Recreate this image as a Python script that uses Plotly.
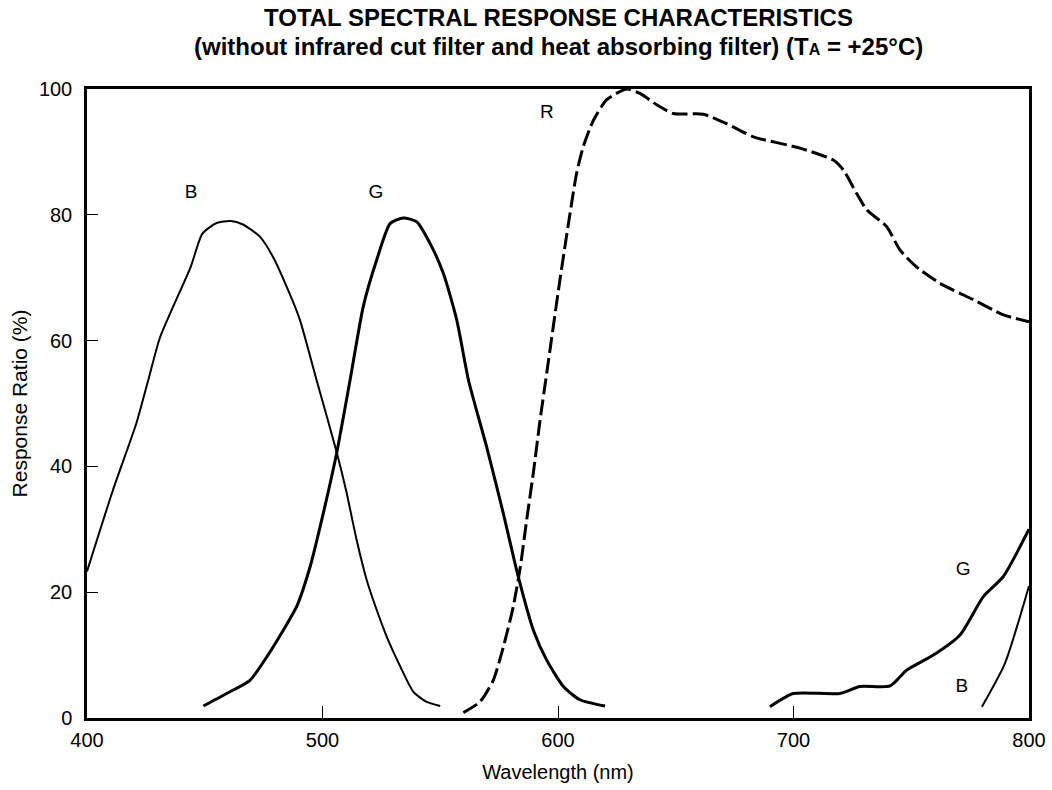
import plotly.graph_objects as go

# Blue response (thin solid)
b_x = [400, 411, 421, 426, 431, 444, 449, 455, 461, 466, 473.5, 479, 486, 490.4, 497.5, 506, 510, 514.5, 518.8, 521.5, 527.3, 533, 538.5, 544, 550]
b_y = [23.3, 36.2, 46.9, 53.7, 60.5, 71.7, 77, 78.7, 79, 78.5, 76.5, 73.3, 67.5, 63.3, 53.7, 42.3, 36.2, 28.3, 21.9, 18.8, 12.9, 8.2, 4.2, 2.6, 1.9]

# Green response (thick solid)
g_x = [449.4, 459.3, 469.2, 476.3, 483.4, 489, 494.7, 500.3, 506, 511.7, 517.3, 523, 528.7, 534.3, 540, 545.6, 551.3, 557, 562, 569.7, 576.8, 583.1, 589.5, 595.2, 602.3, 609.3, 620]
g_y = [1.9, 3.9, 6.0, 9.7, 14, 17.7, 24, 32.5, 42.1, 53.7, 65.4, 72.8, 78.6, 79.5, 78.9, 75.5, 70.7, 63.3, 53.7, 43.1, 32.5, 22.5, 14, 9.2, 5.0, 2.9, 1.9]

# Green near-IR tail
g2_x = [690, 699.9, 719.7, 728.2, 741, 748, 759.4, 770.7, 780.6, 789.1, 800]
g2_y = [1.8, 3.9, 3.9, 5.0, 5.1, 7.6, 10, 13.2, 19.3, 22.5, 30]

# Blue near-IR tail
b2_x = [780, 789.8, 800]
b2_y = [1.8, 8.7, 21]

# Red response (dashed)
r_x = [559.8, 566.9, 572.5, 576.8, 581, 584, 586.7, 589.5, 592.4, 595.2, 600.8, 605.1, 607.9, 610.7, 615, 620.7, 629.2, 634.8, 641.9, 649, 661.7, 671.6, 682.9, 702.8, 716.9, 721.2, 726.8, 731.1, 739.6, 745.2, 752.3, 762.2, 776.4, 789.1, 800]
r_y = [0.85, 2.6, 6, 11.3, 17.7, 24, 31.5, 38.9, 47.4, 54.8, 69.6, 80.2, 86.6, 90.8, 95, 98.3, 100, 99.3, 97.5, 96.1, 96, 94.5, 92.4, 90.6, 88.7, 87.1, 83.4, 80.8, 78.1, 74.4, 71.7, 69.1, 66.5, 64.1, 63]

label_text = ["B", "G", "R", "G", "B"]
label_x = [444.2, 522.7, 595.3, 772, 771.5]
label_y = [83.4, 83.4, 96.1, 23.5, 4.9]

x_ticks = [400, 500, 600, 700, 800]
y_ticks = [0, 20, 40, 60, 80, 100]

title_line1 = "TOTAL SPECTRAL RESPONSE CHARACTERISTICS"
title_line2 = "(without infrared cut filter and heat absorbing filter) (T<span style='font-size:16px'>A</span> = +25°C)"

FONT = "Liberation Sans, Arial, Helvetica, sans-serif"

fig = go.Figure()
fig.add_trace(go.Scatter(x=b_x, y=b_y, mode="lines", line=dict(color="black", width=2, shape="spline", smoothing=0.6)))
fig.add_trace(go.Scatter(x=g_x, y=g_y, mode="lines", line=dict(color="black", width=3, shape="spline", smoothing=0.6)))
fig.add_trace(go.Scatter(x=g2_x, y=g2_y, mode="lines", line=dict(color="black", width=3, shape="spline", smoothing=0.6)))
fig.add_trace(go.Scatter(x=b2_x, y=b2_y, mode="lines", line=dict(color="black", width=2, shape="spline", smoothing=0.6)))
fig.add_trace(go.Scatter(x=r_x, y=r_y, mode="lines", line=dict(color="black", width=3, shape="spline", smoothing=0.6, dash="16px,5px")))
fig.add_trace(go.Scatter(x=label_x, y=label_y, mode="text", text=label_text,
                         textfont=dict(family=FONT, size=19, color="black"), textposition="middle center"))

fig.update_layout(
    width=1052, height=790,
    margin=dict(l=87, r=23, t=89, b=72),
    paper_bgcolor="white", plot_bgcolor="white",
    showlegend=False,
    font=dict(family=FONT, color="black", size=20),
)
fig.add_annotation(text="<b>" + title_line1 + "</b>", xref="paper", yref="paper", x=0.5005, y=1.1129,
                   xanchor="center", yanchor="middle", showarrow=False,
                   font=dict(family=FONT, size=24, color="black"))
fig.add_annotation(text="<b>" + title_line2 + "</b>", xref="paper", yref="paper", x=0.5005, y=1.0668,
                   xanchor="center", yanchor="middle", showarrow=False,
                   font=dict(family=FONT, size=24, color="black"))

fig.update_xaxes(
    range=[400, 800], tickvals=x_ticks, ticktext=[str(v) for v in x_ticks],
    showgrid=False, zeroline=False,
    showline=True, linecolor="black", linewidth=2.5, mirror=True,
    ticks="inside", ticklen=12, tickwidth=1, tickcolor="black",
    tickfont=dict(family=FONT, size=20), ticklabelstandoff=2,
    title=dict(text="Wavelength (nm)", font=dict(family=FONT, size=20), standoff=16),
    automargin=False,
)
fig.update_yaxes(
    range=[0, 100], tickvals=y_ticks, ticktext=[str(v) for v in y_ticks],
    showgrid=False, zeroline=False,
    showline=True, linecolor="black", linewidth=2.5, mirror=True,
    ticks="inside", ticklen=11, tickwidth=1, tickcolor="black",
    tickfont=dict(family=FONT, size=20), ticklabelstandoff=8,
    title=dict(text="Response Ratio (%)", font=dict(family=FONT, size=21), standoff=6),
    automargin=False,
)

fig.write_html(
    "out.html",
    config={"displayModeBar": False},
    post_script="document.documentElement.style.margin='0px';document.body.style.margin='0px';"
                "document.documentElement.style.overflow='hidden';document.body.style.overflow='hidden';",
)
